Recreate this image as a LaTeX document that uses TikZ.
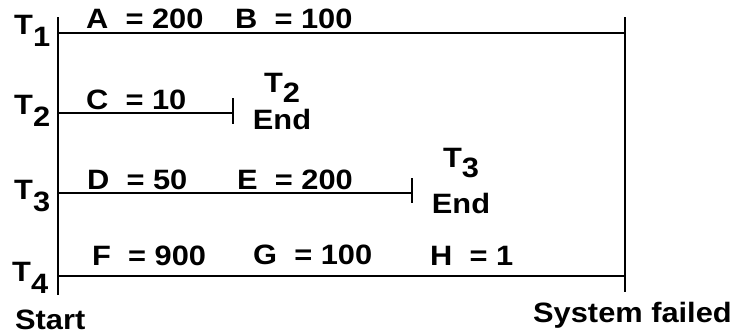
\documentclass[tikz,border=0pt]{standalone}
\usepackage{fontspec}
\setmainfont[FakeStretch=1.1]{Liberation Sans}
\begin{document}
\begin{tikzpicture}[x=1pt,y=-1pt,
  lbl/.style={anchor=base west,inner sep=0pt,font=\fontsize{28}{30}\selectfont\bfseries},
  endlbl/.style={anchor=north,inner sep=0pt,align=center,font=\fontsize{28}{30}\selectfont\bfseries},
  ln/.style={line width=2pt}]
\useasboundingbox (0,0) rectangle (734,335);
\newcommand{\Tsub}[1]{T\raisebox{-12pt}{#1}}
\newcommand{\Tend}[1]{T\raisebox{-10pt}{#1}}
% coordinates
\coordinate (s1) at (57.5,17);
\coordinate (s2) at (57.5,295);
\coordinate (f1) at (624.5,17);
\coordinate (f2) at (624.5,292);
\coordinate (a1) at (57.5,33);
\coordinate (a2) at (624.5,33);
\coordinate (b1) at (57.5,113);
\coordinate (b2) at (233,113);
\coordinate (bt1) at (233,98);
\coordinate (bt2) at (233,124);
\coordinate (c1) at (57.5,193);
\coordinate (c2) at (412,193);
\coordinate (ct1) at (412,178);
\coordinate (ct2) at (412,203);
\coordinate (d1) at (57.5,276);
\coordinate (d2) at (624.5,276);
% lines
\draw[ln] (s1) -- (s2);
\draw[ln] (f1) -- (f2);
\draw[ln] (a1) -- (a2);
\draw[ln] (b1) -- (b2);
\draw[ln] (bt1) -- (bt2);
\draw[ln] (c1) -- (c2);
\draw[ln] (ct1) -- (ct2);
\draw[ln] (d1) -- (d2);
% thread labels
\node[lbl] (t1) at (14,34) {\Tsub{1}};
\node[lbl] (t2) at (14,114) {\Tsub{2}};
\node[lbl] (t3) at (14,199) {\Tsub{3}};
\node[lbl] (t4) at (12,281) {\Tsub{4}};
% values
\node[lbl] (A) at (86,28.5) {A~~= 200};
\node[lbl] (B) at (235,28.5) {B~~= 100};
\node[lbl] (C) at (86,109) {C~~= 10};
\node[lbl] (D) at (87,189) {D~~= 50};
\node[lbl] (E) at (237,189) {E~~= 200};
\node[lbl] (F) at (92,265) {F~~= 900};
\node[lbl] (G) at (253,264) {G~~= 100};
\node[lbl] (H) at (430,265) {H~~= 1};
% end labels
\node[endlbl] (e2) at (282,73) {\Tend{2}\\[6pt]End};
\node[endlbl] (e3) at (461,148) {\Tend{3}\\[14pt]End};
\node[lbl] (start) at (15,329) {Start};
\node[lbl] (fail) at (533,322) {System failed};
\end{tikzpicture}
\end{document}
